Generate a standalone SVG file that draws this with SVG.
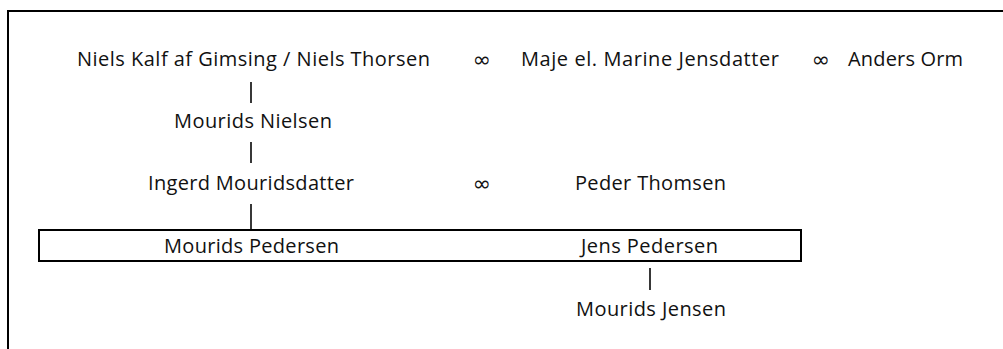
<svg xmlns="http://www.w3.org/2000/svg" width="1003" height="349" viewBox="0 0 1003 349">
<style>
.t{font-family:"Open Sans","Liberation Sans",sans-serif;font-size:20px;fill:#111;text-anchor:middle}
.inf{font-family:"DejaVu Sans",sans-serif;font-size:22px;fill:#111;text-anchor:middle}
.c{stroke:#222;stroke-width:1.8;fill:none}
.frame{fill:none;stroke:#000;stroke-width:2}
</style>
<rect class="frame" x="8" y="11" width="1100" height="400"/>
<g id="connectors">
<line class="c" x1="251" y1="82" x2="251" y2="103"/>
<line class="c" x1="251" y1="142" x2="251" y2="163"/>
<line class="c" x1="251" y1="204" x2="251" y2="230"/>
<line class="c" x1="650" y1="268" x2="650" y2="290"/>
<text class="inf" x="482" y="67">∞</text>
<text class="inf" x="821" y="67">∞</text>
<text class="inf" x="482" y="191">∞</text>
</g>
<g id="niels"><text class="t" x="253.5" y="66" textLength="353">Niels Kalf af Gimsing / Niels Thorsen</text></g>
<g id="maje"><text class="t" x="650" y="66" textLength="258">Maje el. Marine Jensdatter</text></g>
<g id="anders"><text class="t" x="905.5" y="66" textLength="115">Anders Orm</text></g>
<g id="mourids-nielsen"><text class="t" x="253" y="128" textLength="158">Mourids Nielsen</text></g>
<g id="ingerd"><text class="t" x="251" y="190" textLength="206">Ingerd Mouridsdatter</text></g>
<g id="peder"><text class="t" x="650.5" y="190" textLength="151">Peder Thomsen</text></g>
<g id="siblings">
<rect class="frame" x="39" y="230" width="762" height="31"/>
<g id="mourids-pedersen"><text class="t" x="251.5" y="253" textLength="175">Mourids Pedersen</text></g>
<g id="jens-pedersen"><text class="t" x="649.5" y="253" textLength="137">Jens Pedersen</text></g>
</g>
<g id="mourids-jensen"><text class="t" x="651" y="316" textLength="150">Mourids Jensen</text></g>
</svg>
